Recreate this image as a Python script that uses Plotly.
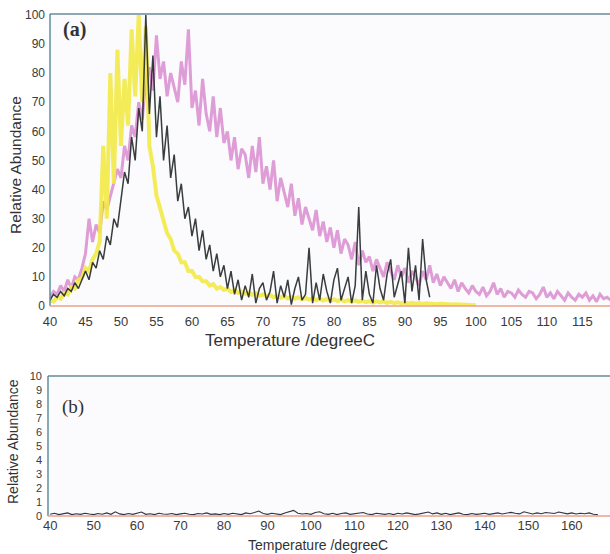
import plotly.graph_objects as go

# ---------------- data ----------------
STEP = 0.5

# Panel (a) – magenta trace, 40.0 .. 119.0 step 0.5
MAGENTA_START = 40.0
MAGENTA = [3, 5, 4, 7, 5, 9, 6, 10, 9, 13,
           18, 30, 22, 28, 25, 36, 33, 38, 42, 47,
           44, 55, 50, 62, 58, 70, 64, 78, 82, 74,
           93, 78, 84, 72, 80, 75, 70, 84, 76, 95,
           68, 74, 62, 78, 66, 60, 72, 58, 68, 56,
           60, 50, 58, 47, 54, 52, 44, 55, 46, 58,
           42, 48, 40, 50, 36, 44, 39, 34, 42, 31,
           37, 28, 34, 30, 26, 33, 24, 29, 22, 27,
           20, 26, 18, 23, 21, 16, 22, 14, 19, 15,
           17, 12, 16, 13, 10, 15, 12, 9, 14, 10,
           13, 8, 12, 10, 7, 12, 9, 14, 8, 11,
           7, 10, 8, 6, 9, 5, 8, 6, 4.5, 7,
           5, 4, 6.5, 3.5, 5, 8, 4, 6, 3, 5,
           4.5, 3, 5.5, 4, 3, 5, 4.5, 2.5, 4, 6.5,
           3, 4.5, 2.5, 5, 3.5, 2, 4.5, 3, 2, 4,
           3, 4.5, 2, 3.5, 1.5, 4, 2.5, 3, 2]

# Panel (a) – yellow trace, 40.0 .. 100.0 step 0.5
YELLOW_START = 40.0
YELLOW = [2, 1.5, 3, 2.5, 4.5, 4, 6.5, 6, 9, 9.5,
          13, 12, 16, 18, 22, 55, 30, 80, 42, 88,
          55, 78, 62, 95, 72, 100, 70, 96, 55, 48,
          38, 34, 30, 25, 23, 19, 18, 15, 15, 12,
          12, 10, 10, 8.5, 8.5, 7, 7.5, 6, 6.5, 5.5,
          6, 4.8, 5.5, 4.5, 5, 4.2, 4.6, 3.8, 4.4, 3.5,
          4, 3.4, 3.8, 3, 3.5, 2.8, 3.4, 2.6, 3.1, 2.5,
          3, 2.3, 2.8, 2.2, 2.7, 2, 2.5, 1.9, 2.4, 1.8,
          2.3, 1.7, 2.2, 1.6, 2, 1.5, 1.9, 1.4, 1.8, 1.3,
          1.7, 1.2, 1.6, 1.2, 1.5, 1.1, 1.4, 1.0, 1.3, 0.9,
          1.2, 0.9, 1.1, 0.8, 1.0, 0.7, 0.9, 0.7, 0.8, 0.6,
          0.8, 0.6, 0.7, 0.5, 0.6, 0.5, 0.5, 0.4, 0.4, 0.3,
          0.3]

# Panel (a) – black trace, 40.0 .. 93.5 step 0.5
BLACK_START = 40.0
BLACK = [2, 4, 3, 5, 3.5, 6, 5, 8, 6, 9,
         12, 9, 15, 13, 19, 16, 24, 21, 30, 27,
         36, 46, 42, 58, 50, 68, 60, 100, 66, 86,
         58, 72, 50, 62, 44, 52, 36, 42, 30, 34,
         24, 30, 19, 26, 16, 21, 12, 18, 10, 14,
         6, 12, 4, 9, 2, 7, 3, 11, 1, 6,
         8, 2, 5, 12, 1, 7, 3, 9, 0.5, 6,
         10, 2, 4, 20, 1, 8, 2, 11, 5, 1,
         9, 13, 2, 6, 10, 1, 7, 34, 2, 12,
         4, 1, 14, 6, 2, 11, 16, 3, 8, 12,
         1, 20, 5, 14, 2, 23, 9, 3]

# Panel (b) – black trace, 40 .. 166 step 1
B_START = 40.0
B_STEP = 1.0
BOTTOM = [0.12, 0.2, 0.1, 0.15, 0.22, 0.1, 0.16, 0.12, 0.2, 0.14,
          0.1, 0.18, 0.13, 0.22, 0.12, 0.3, 0.15, 0.1, 0.18, 0.12,
          0.2, 0.28, 0.12, 0.16, 0.1, 0.2, 0.14, 0.12, 0.18, 0.1,
          0.15, 0.2, 0.12, 0.1, 0.18, 0.14, 0.22, 0.12, 0.15, 0.1,
          0.18, 0.12, 0.2, 0.14, 0.1, 0.22, 0.16, 0.25, 0.35, 0.18,
          0.12, 0.2, 0.15, 0.1, 0.22, 0.3, 0.4, 0.2, 0.14, 0.18,
          0.12, 0.25, 0.3, 0.16, 0.12, 0.2, 0.1, 0.18, 0.22, 0.12,
          0.15, 0.2, 0.25, 0.14, 0.1, 0.2, 0.15, 0.12, 0.18, 0.1,
          0.2, 0.14, 0.22, 0.16, 0.1, 0.15, 0.2, 0.28, 0.15, 0.22,
          0.12, 0.2, 0.1, 0.16, 0.22, 0.12, 0.1, 0.18, 0.12, 0.15,
          0.2, 0.12, 0.18, 0.22, 0.14, 0.2, 0.26, 0.2, 0.15, 0.3,
          0.2, 0.14, 0.22, 0.16, 0.25, 0.2, 0.18, 0.28, 0.22, 0.15,
          0.22, 0.14, 0.2, 0.16, 0.22, 0.12, 0.1]

TOP_XTICKS = list(range(40, 120, 5))
TOP_YTICKS = list(range(0, 101, 10))
BOT_XTICKS = list(range(40, 161, 10))
BOT_YTICKS = list(range(0, 11, 1))


def xs(start, step, n):
    return [round(start + step * i, 2) for i in range(n)]


# ---------------- figure ----------------
W, H = 610, 554
fig = go.Figure()

fig.add_trace(go.Scatter(x=xs(MAGENTA_START, STEP, len(MAGENTA)), y=MAGENTA,
                         mode="lines", line=dict(color="rgba(212,126,202,0.75)", width=3),
                         xaxis="x", yaxis="y", showlegend=False))
fig.add_trace(go.Scatter(x=xs(YELLOW_START, STEP, len(YELLOW)), y=YELLOW,
                         mode="lines", line=dict(color="rgba(242,234,70,0.9)", width=4),
                         xaxis="x", yaxis="y", showlegend=False))
fig.add_trace(go.Scatter(x=xs(BLACK_START, STEP, len(BLACK)), y=BLACK,
                         mode="lines", line=dict(color="rgba(35,40,40,0.9)", width=1.5),
                         xaxis="x", yaxis="y", showlegend=False))
fig.add_trace(go.Scatter(x=xs(B_START, B_STEP, len(BOTTOM)), y=BOTTOM,
                         mode="lines", line=dict(color="rgba(30,30,40,0.9)", width=1.1),
                         xaxis="x2", yaxis="y2", showlegend=False))


def px_x(p):
    return p / W


def px_y(p):
    return 1 - p / H


FONT_SANS = "Liberation Sans, Arial, sans-serif"
FONT_SERIF = "Liberation Serif, Times New Roman, serif"
tick_font = dict(family=FONT_SANS, size=12, color="#3a3a3a")

fig.update_layout(
    width=W, height=H,
    margin=dict(l=0, r=0, t=0, b=0),
    paper_bgcolor="white",
    plot_bgcolor="#fbfbfd",
    xaxis=dict(domain=[px_x(50), 1.0], range=[40, 118.9], tickvals=TOP_XTICKS,
               showgrid=False, zeroline=False, showline=False, ticks="",
               tickfont=dict(family=FONT_SANS, size=13, color="#3a3a3a"),
               ticklabelstandoff=6, automargin=False, anchor="y"),
    yaxis=dict(domain=[px_y(306), px_y(14)], range=[0, 100.3], tickvals=TOP_YTICKS,
               showgrid=False, zeroline=False, showline=False, ticks="",
               tickfont=tick_font, ticklabelstandoff=4, automargin=False, anchor="x"),
    xaxis2=dict(domain=[px_x(48), 1.0], range=[39.5, 168.8], tickvals=BOT_XTICKS,
                showgrid=False, zeroline=False, showline=False, ticks="",
                tickfont=dict(family=FONT_SANS, size=13, color="#3a3a3a"),
                ticklabelstandoff=0, automargin=False, anchor="y2"),
    yaxis2=dict(domain=[px_y(516), px_y(376)], range=[0, 10], tickvals=BOT_YTICKS,
                showgrid=False, zeroline=False, showline=False, ticks="",
                tickfont=dict(family=FONT_SANS, size=11, color="#3a3a3a"),
                ticklabelstandoff=5, automargin=False, anchor="x2"),
)


def border(xr, yr, x0, y0, x1, y1, color, width):
    fig.add_shape(type="line", xref=xr, yref=yr, x0=x0, y0=y0, x1=x1, y1=y1,
                  line=dict(color=color, width=width), layer="above")


for xr, yr in (("x domain", "y domain"), ("x2 domain", "y2 domain")):
    border(xr, yr, 0, 1, 1, 1, "#8fa7b2", 2)        # top
    border(xr, yr, 0, 0, 0, 1, "#4f8796", 1.4)      # left
    border(xr, yr, 0, 0, 1, 0, "#e9a08c", 1.4)      # bottom

annots = [
    dict(text="<b>(a)</b>", x=61, y=30, size=20, family=FONT_SERIF, angle=0, xanchor="left"),
    dict(text="(b)", x=60, y=407, size=19, family=FONT_SERIF, angle=0, xanchor="left"),
    dict(text="Relative Abundance", x=15, y=165, size=15.5, family=FONT_SANS, angle=-90, xanchor="center"),
    dict(text="Temperature /degreeC", x=290, y=340, size=17, family=FONT_SANS, angle=0, xanchor="center"),
    dict(text="Relative Abundance", x=13, y=442, size=14, family=FONT_SANS, angle=-90, xanchor="center"),
    dict(text="Temperature /degreeC", x=318, y=545, size=14, family=FONT_SANS, angle=0, xanchor="center"),
]
for a in annots:
    fig.add_annotation(text=a["text"], xref="paper", yref="paper",
                       x=px_x(a["x"]), y=px_y(a["y"]), xanchor=a["xanchor"], yanchor="middle",
                       textangle=a["angle"], showarrow=False,
                       font=dict(family=a["family"], size=a["size"], color="#333333"))

fig.write_html("out.html")
